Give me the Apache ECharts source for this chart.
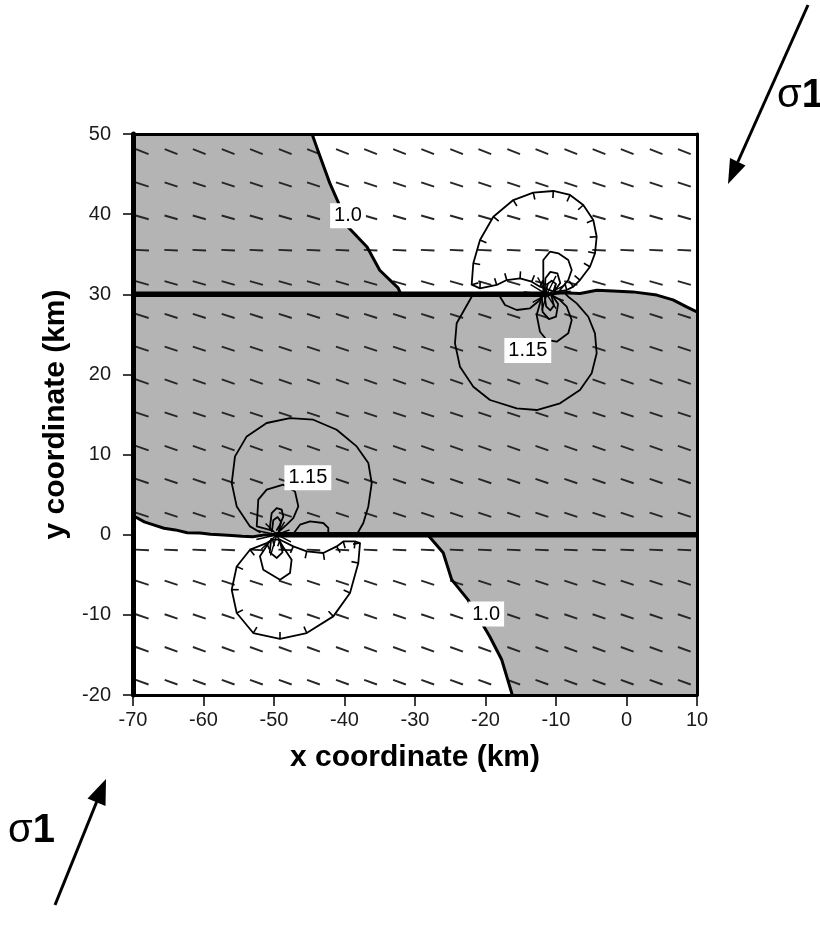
<!DOCTYPE html>
<html><head><meta charset="utf-8">
<script src="https://cdn.jsdelivr.net/npm/echarts/dist/echarts.min.js"></script>
<style>html,body{margin:0;padding:0;background:#fff}#c{width:820px;height:927px}</style>
</head><body><div id="c"></div>
<script>
// ---------- data (km) ----------
const xRange = [-70, 10];
const yRange = [-20, 50];
const tickStep = 10;

const faultUpper = [[-70, 30], [-11.3, 30]];
const faultLower = [[-49.6, 0], [10, 0]];

// 1.0 contours that bound the grey regions
const boundaryTopLeft = [[-44.6,50],[-43.8,48.0],[-42.1,43.9],[-40.9,41.5],[-39.5,38.4],[-36.8,35.9],[-35.0,33.0],[-32.4,30.8],[-32.0,30]];
const boundaryUpperRight = [[-11.3,30],[-9.0,30.2],[-6.6,30.1],[-4.2,30.5],[-1.9,30.4],[0.9,30.3],[4.3,29.9],[6.6,29.3],[8.6,28.4],[10,27.8]];
const boundaryLowerLeft = [[-70,2.4],[-69.7,2.25],[-68.4,1.6],[-67.2,1.25],[-65.6,0.8],[-64.0,0.6],[-62.3,0.25],[-60.5,0.2],[-59.0,0.05],[-57.7,0],[-56.0,-0.1],[-54.5,-0.2],[-53.0,-0.25],[-51.5,-0.05],[-49.6,0]];
const boundaryBottomRight = [[-28.2,0],[-26.0,-2.25],[-24.8,-5.6],[-22.5,-8.1],[-20.8,-10.6],[-19.4,-12.7],[-17.7,-15.6],[-16.2,-20]];
const cornersTopLeft = [[-70,30],[-70,50]];
const cornersMiddle = [[10,0]];
const cornersBottomRight = [[10,-20],[10,0]];

// thin stress contours around the fault tips
const upperTip = [-11.3, 30];
const lowerTip = [-49.6, 0];
const upper115 = [[-22.0,30],[-21.96,29.7],[-24.09,26.38],[-24.33,23.88],[-23.62,20.96],[-21.73,18.47],[-19.36,16.81],[-15.57,15.77],[-12.74,15.56],[-9.43,16.4],[-6.6,18.06],[-4.94,20.14],[-4.23,22.64],[-4.47,25.13],[-5.42,27.2],[-7.06,28.87],[-8.26,29.7],[-8.6,30]];
const upperSmall = [[-18.2,30],[-17.94,29.7],[-17.23,28.66],[-15.57,28.04],[-13.69,28.25],[-12.27,29.28],[-12.0,30]];
const upperInner = [[-12.0,29.8],[-12.27,28.87],[-12.74,27.41],[-12.27,25.33],[-11.32,24.3],[-9.9,24.08],[-8.26,25.13],[-7.77,26.79],[-8.48,28.45],[-9.43,29.28],[-10.6,29.9]];
const upperNestA = [[-12.0,29.6],[-11.9,27.8],[-11.0,26.9],[-10.0,27.2],[-9.7,28.8],[-10.4,29.7]];
const upperNestB = [[-11.6,29.7],[-11.4,28.5],[-10.8,28.0],[-10.3,28.6],[-10.6,29.7]];
const upperAboveA = [[-11.8,30.4],[-11.8,34.28],[-10.85,35.31],[-9.67,35.11],[-8.26,34.28],[-7.77,33.03],[-8.26,31.78],[-9.43,30.53]];
const upperAboveB = [[-11.6,30.4],[-11.5,32.0],[-10.8,32.8],[-9.8,32.6],[-9.4,31.4],[-10.2,30.4]];
const upperAboveC = [[-11.4,30.3],[-11.2,31.3],[-10.6,31.7],[-10.0,31.3],[-10.4,30.3]];
const upperLowLobe = [[-21.96,31.2],[-21.73,33.87],[-20.78,36.77],[-18.89,39.68],[-16.06,41.76],[-13.22,42.68],[-10.38,42.89],[-8.01,42.39],[-6.13,41.14],[-4.71,39.27],[-4.23,37.18],[-4.47,35.11],[-5.18,33.44],[-6.6,31.78],[-7.54,30.95],[-8.48,30.53],[-10.2,30.3],[-12.27,30.95],[-13.45,31.57],[-15.1,31.99],[-16.99,31.78],[-18.41,31.16],[-20.78,30.74],[-21.96,31.2]];
const upperSpokes = [[-13.6,31.2],[-12.6,32.1],[-10.0,32.3],[-8.6,31.2],[-7.9,30.4],[-8.9,29.2],[-10.0,28.2],[-12.0,28.0],[-13.3,29.0],[-14.6,30.3]];

const lower115 = [[-52.0,0.3],[-53.4,1.04],[-55.29,3.53],[-56.0,6.45],[-55.53,9.77],[-53.87,12.27],[-51.04,13.94],[-47.73,14.56],[-44.43,14.35],[-41.11,13.1],[-38.27,11.02],[-36.62,8.95],[-36.14,6.45],[-36.62,3.53],[-37.33,1.46],[-38.27,0]];
const lowerSmall = [[-47.3,0],[-47.02,0.41],[-46.31,1.25],[-44.89,1.66],[-43.01,1.46],[-42.3,0.84],[-42.3,0]];
const lowerInner = [[-50.2,0.5],[-52.45,1.04],[-52.23,4.37],[-51.04,5.62],[-48.68,6.24],[-47.02,5.4],[-46.55,3.53],[-47.26,2.08],[-48.2,1.25],[-49.3,0.4]];
const lowerNestA = [[-50.6,0.8],[-50.33,2.7],[-49.62,3.33],[-48.91,3.12],[-48.68,2.28],[-49.15,1.25],[-49.6,0.6]];
const lowerNestB = [[-50.3,0.4],[-50.1,1.8],[-49.5,2.2],[-49.0,1.6],[-49.3,0.5]];
const lowerBelowA = [[-50.6,-0.8],[-51.99,-2.7],[-51.52,-4.37],[-49.15,-5.62],[-47.73,-4.78],[-47.5,-3.12],[-48.44,-1.87],[-49.3,-0.7]];
const lowerBelowB = [[-50.4,-0.5],[-50.6,-2.2],[-49.6,-2.9],[-48.8,-2.2],[-49.2,-0.6]];
const lowerLowLobe = [[-50.2,-0.6],[-51.04,-1.04],[-53.4,-1.87],[-55.29,-3.96],[-56.0,-6.86],[-55.29,-9.77],[-52.94,-12.27],[-49.15,-13.01],[-45.36,-12.27],[-41.59,-10.19],[-39.22,-7.27],[-38.04,-3.53],[-37.8,-1.04],[-38.51,-0.84],[-40.17,-0.84],[-41.11,-1.46],[-43.01,-2.28],[-45.36,-2.08],[-47.26,-1.46],[-49.15,-0.62],[-50.2,-0.6]];
const lowerSpokes = [[-52.5,-0.6],[-51.8,-1.8],[-50.5,-2.6],[-48.6,-2.0],[-47.6,-0.9],[-47.8,0.6],[-48.5,1.6],[-51.2,1.4],[-52.3,0.5]];

const contourLabels = [[-39.5,39.8,'1.0'],[-19.9,-9.9,'1.0'],[-14.0,23.0,'1.15'],[-45.2,7.1,'1.15']];

// stress-trajectory dashes (grid positions and orientation in degrees)
const dashCols = [-68.7,-64.6,-60.6,-56.5,-52.5,-48.4,-44.4,-40.3,-36.3,-32.2,-28.2,-24.1,-20.1,-16.0,-12.0,-7.9,-3.9,0.1,4.2,8.2];
const dashRows = [47.8,43.7,39.6,35.5,31.4,27.3,23.2,19.1,15.0,10.8,6.7,2.5,-1.9,-6.0,-10.2,-14.3,-18.4];
const dashRowAngles = [-21,-18,-16,-3,-16,-18,-18,-19,-19,-19,-19,-18,-3,-18,-19,-20,-20];

// ---------- build ----------
const GREY = '#b4b4b4';
const FONT = "'Liberation Sans', Arial, sans-serif";

function polygonSeries(pts, z){
  return {type:'custom', coordinateSystem:'cartesian2d', clip:true, silent:true, z:z, animation:false,
    data:[pts[0]],
    renderItem:function(params, api){
      return {type:'polygon', shape:{points:pts.map(p=>api.coord(p))}, style:{fill:GREY, stroke:null}};
    }};
}
function pathSeries(list, width, z, hachure){
  return {type:'custom', coordinateSystem:'cartesian2d', clip:true, silent:true, z:z, animation:false,
    data:[list[0][0]],
    renderItem:function(params, api){
      const children = [];
      list.forEach(function(pts){
        const p = pts.map(q=>api.coord(q));
        children.push({type:'polyline', shape:{points:p}, style:{stroke:'#000', lineWidth:width, fill:null, lineJoin:'round', lineCap:'round'}});
        if(hachure){
          let cx=0, cy=0; p.forEach(a=>{cx+=a[0]; cy+=a[1];}); cx/=p.length; cy/=p.length;
          const n = p.length-1;
          for(let i=0;i<n;i++){
            const a = p[(i-1+n)%n], b = p[(i+1)%n];
            let tx=b[0]-a[0], ty=b[1]-a[1];
            const l = Math.hypot(tx,ty)||1; tx/=l; ty/=l;
            let nx=-ty, ny=tx;
            if(nx*(cx-p[i][0])+ny*(cy-p[i][1])<0){nx=-nx; ny=-ny;}
            children.push({type:'line', shape:{x1:p[i][0], y1:p[i][1], x2:p[i][0]+nx*7, y2:p[i][1]+ny*7}, style:{stroke:'#000', lineWidth:1.6}});
          }
        }
      });
      return {type:'group', children:children};
    }};
}
function spokeSeries(tip, ends){
  return {type:'custom', coordinateSystem:'cartesian2d', clip:true, silent:true, z:3, animation:false,
    data:ends,
    renderItem:function(params, api){
      const a = api.coord(tip), b = api.coord([api.value(0), api.value(1)]);
      return {type:'line', shape:{x1:a[0],y1:a[1],x2:b[0],y2:b[1]}, style:{stroke:'#000', lineWidth:1.4}};
    }};
}

const dashData = [];
dashRows.forEach(function(y, r){ dashCols.forEach(function(x){ dashData.push([x, y, dashRowAngles[r]]); }); });

const series = [
  polygonSeries(cornersTopLeft.concat(boundaryTopLeft), 1),
  polygonSeries([[-70,30]].concat(boundaryUpperRight).concat(cornersMiddle).concat(boundaryLowerLeft.slice().reverse()), 1),
  polygonSeries(boundaryBottomRight.concat(cornersBottomRight), 1),
  {type:'custom', coordinateSystem:'cartesian2d', clip:true, silent:true, z:2, animation:false,
    data:dashData,
    renderItem:function(params, api){
      const c = api.coord([api.value(0), api.value(1)]);
      const a = api.value(2)*Math.PI/180, h = 6.8;
      const dx = Math.cos(a)*h, dy = -Math.sin(a)*h;
      return {type:'line', shape:{x1:c[0]-dx, y1:c[1]-dy, x2:c[0]+dx, y2:c[1]+dy}, style:{stroke:'#262626', lineWidth:1.9}};
    }},
  pathSeries([upper115, upperSmall, upperInner, upperNestA, upperNestB, upperAboveA, upperAboveB, upperAboveC,
              lower115, lowerSmall, lowerInner, lowerNestA, lowerNestB, lowerBelowA, lowerBelowB], 1.8, 3, false),
  pathSeries([upperLowLobe, lowerLowLobe], 1.8, 3, true),
  spokeSeries(upperTip, upperSpokes),
  spokeSeries(lowerTip, lowerSpokes),
  pathSeries([boundaryTopLeft, boundaryUpperRight, boundaryLowerLeft, boundaryBottomRight], 3, 4, false),
  pathSeries([faultUpper, faultLower], 5.5, 5, false),
  {type:'custom', coordinateSystem:'cartesian2d', clip:false, silent:true, z:6, animation:false,
    data:contourLabels,
    renderItem:function(params, api){
      const c = api.coord([api.value(0), api.value(1)]);
      return {type:'text', x:c[0], y:c[1], style:{text:contourLabels[params.dataIndex][2], fill:'#000',
        fontSize:20, fontFamily:FONT, align:'center', verticalAlign:'middle',
        backgroundColor:'#fff', padding:[3,4,2,4]}};
    }}
];

const axisCommon = {type:'value', splitLine:{show:false}, z:10};
const option = {
  animation:false,
  backgroundColor:'#fff',
  grid:{left:133, top:134, width:564, height:561, containLabel:false, outerBoundsMode:'none'},
  xAxis:[
    Object.assign({}, axisCommon, {position:'bottom', min:xRange[0], max:xRange[1], interval:tickStep,
      axisLine:{show:true, onZero:false, lineStyle:{color:'#000', width:3}},
      axisTick:{show:true, length:11, lineStyle:{color:'#000', width:1.5}},
      axisLabel:{color:'#1a1a1a', fontSize:20, fontFamily:FONT, margin:15},
      name:'x coordinate (km)', nameLocation:'middle', nameGap:48,
      nameTextStyle:{color:'#000', fontSize:30, fontWeight:'bold', fontFamily:FONT}}),
    Object.assign({}, axisCommon, {position:'top', min:xRange[0], max:xRange[1], interval:tickStep,
      axisLine:{show:true, onZero:false, lineStyle:{color:'#000', width:3}},
      axisTick:{show:false}, axisLabel:{show:false}})
  ],
  yAxis:[
    Object.assign({}, axisCommon, {position:'left', min:yRange[0], max:yRange[1], interval:tickStep,
      axisLine:{show:true, onZero:false, lineStyle:{color:'#000', width:5}},
      axisTick:{show:true, length:10, lineStyle:{color:'#000', width:1.5}},
      axisLabel:{color:'#1a1a1a', fontSize:20, fontFamily:FONT, margin:22},
      name:'y coordinate (km)', nameLocation:'middle', nameGap:62,
      nameTextStyle:{color:'#000', fontSize:30, fontWeight:'bold', fontFamily:FONT}}),
    Object.assign({}, axisCommon, {position:'right', min:yRange[0], max:yRange[1], interval:tickStep,
      axisLine:{show:true, onZero:false, lineStyle:{color:'#000', width:3}},
      axisTick:{show:false}, axisLabel:{show:false}})
  ],
  graphic:[
    {type:'line', shape:{x1:808,y1:5,x2:737.8,y2:162}, style:{stroke:'#000', lineWidth:3}},
    {type:'polygon', shape:{points:[[728,184],[745.5,165.5],[730,158]]}, style:{fill:'#000'}},
    {type:'text', x:777, y:96, style:{text:'{s|σ}{o|1}', verticalAlign:'middle',
      rich:{s:{fontSize:40, fontFamily:FONT, fill:'#000'}, o:{fontSize:40, fontWeight:'bold', fontFamily:FONT, fill:'#000'}}}},
    {type:'line', shape:{x1:55,y1:905,x2:96.6,y2:802}, style:{stroke:'#000', lineWidth:3}},
    {type:'polygon', shape:{points:[[106,779],[105.5,806],[87.5,798.5]]}, style:{fill:'#000'}},
    {type:'text', x:8, y:831, style:{text:'{s|σ}{o|1}', verticalAlign:'middle',
      rich:{s:{fontSize:40, fontFamily:FONT, fill:'#000'}, o:{fontSize:40, fontWeight:'bold', fontFamily:FONT, fill:'#000'}}}}
  ],
  series: series
};
const chart = echarts.init(document.getElementById('c'), null, {renderer:'canvas'});
chart.setOption(option);
</script></body></html>
